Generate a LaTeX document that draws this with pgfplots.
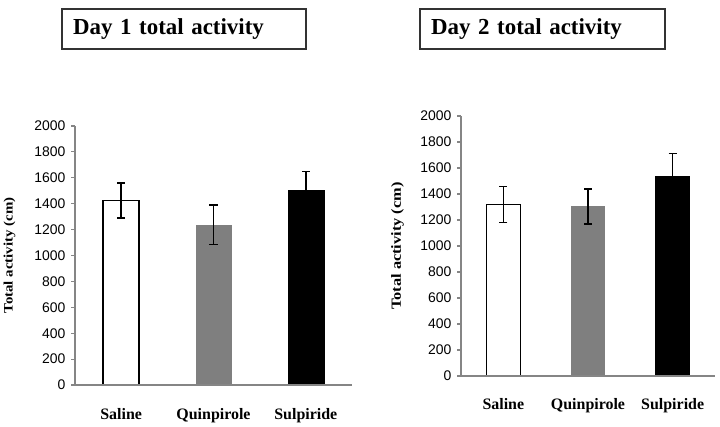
\documentclass[border=0pt]{standalone}
\usepackage{pgfplots}
\pgfplotsset{compat=1.18}
\usepackage{graphicx}
\usepackage{fontspec}
\setmainfont{Liberation Serif}
\newfontfamily\arial{Liberation Sans}

\definecolor{axisgray}{HTML}{858585}
\definecolor{bargray}{HTML}{7F7F7F}

\pgfplotsset{
  actbar/.style={
    scale only axis,
    anchor=south west,
    axis on top,
    xmin=-0.5, xmax=2.5,
    ymin=0, ymax=2000,
    ytick={0,200,...,2000},
    xtick={0,1,2},
    xticklabels={Saline,Quinpirole,Sulpiride},
    axis x line=bottom, axis y line=left,
    axis line style={draw=axisgray, line width=1.3bp, -},
    ytick style={draw=axisgray, line width=1.1bp},
    xtick style={draw=none},
    tick align=outside, major tick length=4bp,
    /pgf/number format/assume math mode=true,
    /pgf/number format/1000 sep={},
    yticklabel style={font=\arial\fontsize{14}{16}\selectfont, xshift=-2bp},
    xticklabel style={font=\bfseries\fontsize{16}{18}\selectfont, anchor=base},
    ybar, bar shift=0pt,
    error bars/y dir=both, error bars/y explicit,
    error bars/error bar style={black, line width=1.4bp},
    error bars/error mark options={rotate=90, mark size=4bp, line width=1.4bp, black},
  },
}

\begin{document}
\begin{tikzpicture}
\useasboundingbox[fill=white] (0bp,0bp) rectangle (720bp,-427bp);

% titles
\node[draw=black!80, line width=1.2bp, minimum width=244bp, minimum height=40bp,
      text width=222bp, inner xsep=11bp, align=left, font=\bfseries\fontsize{23}{26}\selectfont]
  at (184bp,-29bp) {Day 1 total activity};
\node[draw=black!80, line width=1.2bp, minimum width=245bp, minimum height=40bp,
      text width=223bp, inner xsep=11bp, align=left, font=\bfseries\fontsize{23}{26}\selectfont]
  at (542.5bp,-29bp) {Day 2 total activity};

% Day 1
\begin{axis}[actbar,
  at={(75bp,-385bp)}, width=277bp, height=259bp,
  bar width=36bp,
  xticklabel style={yshift=-30bp},
  ylabel={\scalebox{1.15}[1]{Total activity (cm)}},
  ylabel style={font=\bfseries\fontsize{13}{15}\selectfont, at={(axis description cs:-0.236,0.5)}, anchor=center},
]
\addplot[fill=white, draw=black, line width=1.4bp] coordinates {(0,1425) +- (0,135)};
\addplot[fill=bargray, draw=none] coordinates {(1,1237) +- (0,152)};
\addplot[fill=black, draw=black] coordinates {(2,1505) +- (0,145)};
\end{axis}

% Day 2
\begin{axis}[actbar,
  at={(461bp,-376bp)}, width=254bp, height=260bp,
  bar width=34bp,
  xticklabel style={yshift=-29bp},
  ylabel={\scalebox{1.17}[1]{Total activity (cm)}},
  ylabel style={font=\bfseries\fontsize{14}{16}\selectfont, at={(axis description cs:-0.25,0.5)}, anchor=center},
]
\addplot[fill=white, draw=black, line width=1.4bp] coordinates {(0,1320) +- (0,139)};
\addplot[fill=bargray, draw=none] coordinates {(1,1305) +- (0,135)};
\addplot[fill=black, draw=black] coordinates {(2,1538) +- (0,172)};
\end{axis}
\end{tikzpicture}
\end{document}
